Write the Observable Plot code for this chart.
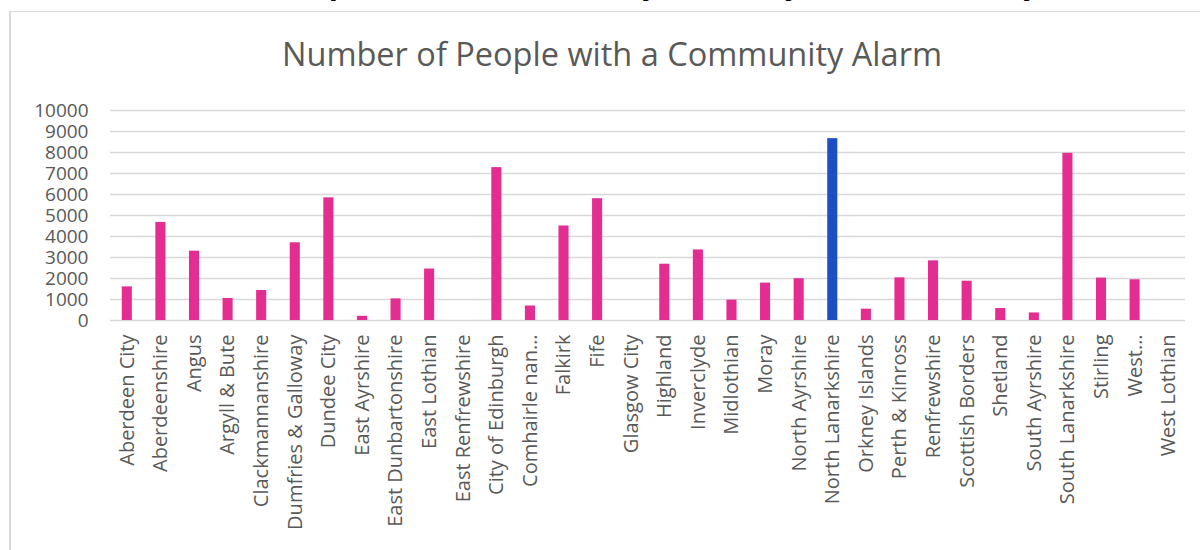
<!DOCTYPE html>
<html>
<head>
<meta charset="utf-8">
<script src="https://cdn.jsdelivr.net/npm/d3@7"></script>
<script src="https://cdn.jsdelivr.net/npm/@observablehq/plot@0.6"></script>
<style>
  html, body { margin: 0; padding: 0; background: #fff; overflow: hidden; }
  body { width: 1200px; height: 550px; position: relative; font-family: "Open Sans", sans-serif; }
  #clipped {
    position: absolute; left: 20px; top: -32px; white-space: nowrap;
    font: bold 30px "Open Sans", sans-serif; color: #000; line-height: 30px;
  }
  #frame {
    position: absolute; left: 9px; top: 11px; width: 1210px; height: 560px;
    border: 1px solid #d9d9d9; border-left: 2px solid #d9d9d9; box-sizing: border-box;
    background: #fff;
  }
  #title {
    position: absolute; left: 0; top: 34px; width: 1224px; text-align: center;
    font: 32.5px "Open Sans", sans-serif; color: #595959; line-height: 40px;
  }
  #chart { position: absolute; left: 0; top: 90px; }
</style>
</head>
<body>
<div id="clipped">Total Number of People with a Community Alarm by Local Authority, Scotland</div>
<div id="frame"></div>
<div id="title">Number of People with a Community Alarm</div>
<div id="chart"></div>
<script>
const categories = [
  "Aberdeen City", "Aberdeenshire", "Angus", "Argyll & Bute", "Clackmannanshire",
  "Dumfries & Galloway", "Dundee City", "East Ayrshire", "East Dunbartonshire", "East Lothian",
  "East Renfrewshire", "City of Edinburgh", "Comhairle nan…", "Falkirk", "Fife",
  "Glasgow City", "Highland", "Inverclyde", "Midlothian", "Moray",
  "North Ayrshire", "North Lanarkshire", "Orkney Islands", "Perth & Kinross", "Renfrewshire",
  "Scottish Borders", "Shetland", "South Ayrshire", "South Lanarkshire", "Stirling",
  "West…", "West Lothian"
];
const values = [
  1600, 4670, 3300, 1050, 1430,
  3700, 5840, 200, 1030, 2450,
  null, 7280, 690, 4500, 5800,
  null, 2680, 3360, 970, 1780,
  1990, 8660, 540, 2030, 2840,
  1870, 570, 360, 7960, 2020,
  1940, null
];
const highlighted = ["North Lanarkshire"];
const yTicks = [0, 1000, 2000, 3000, 4000, 5000, 6000, 7000, 8000, 9000, 10000];

const data = categories.map((c, i) => ({category: c, value: values[i], hi: highlighted.includes(c)}));

const chart = Plot.plot({
  width: 1200,
  height: 460,
  marginLeft: 110,
  marginRight: 15,
  marginTop: 20,
  marginBottom: 230,
  style: {fontFamily: "Open Sans, sans-serif", background: "transparent", overflow: "visible"},
  x: {domain: categories, paddingInner: 0.7, paddingOuter: 0.35, round: false, label: null},
  y: {domain: [0, 10000], label: null},
  marks: [
    Plot.ruleY(yTicks, {stroke: "#d9d9d9", strokeWidth: 1.5}),
    Plot.barY(data.filter(d => d.value != null), {
      x: "category", y: "value",
      fill: d => d.hi ? "#1c4fc6" : "#e32d91"
    }),
    Plot.axisY({ticks: yTicks, tickSize: 0, tickPadding: 22, fontSize: 19, fill: "#595959", tickFormat: d => String(d)}),
    Plot.axisX({tickSize: 0, tickRotate: -90, tickPadding: 14, fontSize: 20, fill: "#595959", textAnchor: "end"})
  ]
});
document.getElementById("chart").appendChild(chart);
</script>
</body>
</html>
